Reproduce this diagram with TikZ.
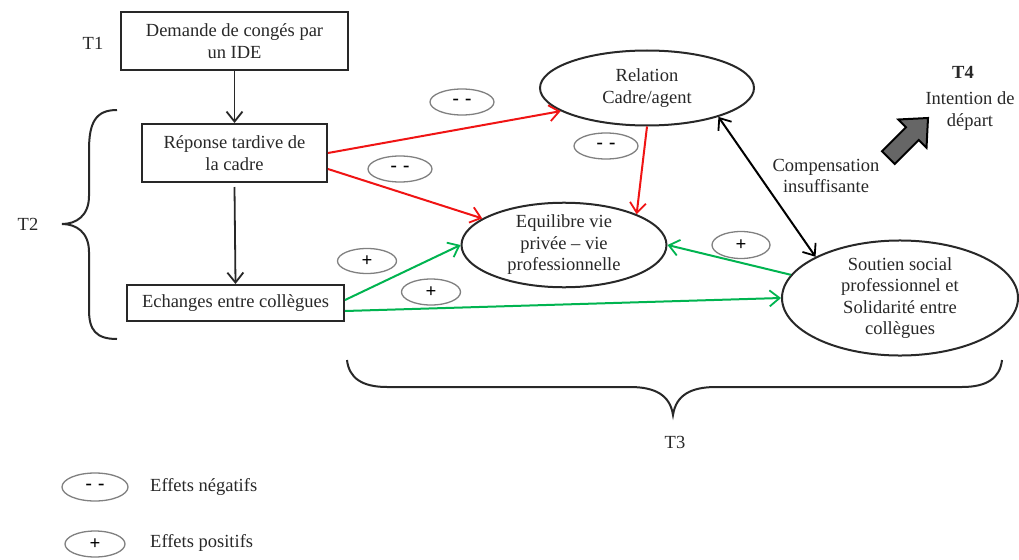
\documentclass[tikz,border=0pt]{standalone}
\usepackage{fontspec}
\setmainfont{Liberation Serif}
\usetikzlibrary{shapes.geometric,arrows.meta}
\definecolor{redarr}{RGB}{240,20,20}
\definecolor{greenarr}{RGB}{0,180,80}
\definecolor{ink}{RGB}{40,40,40}
\begin{document}
\begin{tikzpicture}[x=1pt,y=-1pt,
  every node/.style={font=\fontsize{18.5}{21.5}\selectfont, text=ink, inner sep=0pt, align=center},
  boxnode/.style={draw=ink, line width=2pt, rectangle},
  ellnode/.style={draw=ink, line width=2pt, ellipse},
  badge/.style={draw=black!50, line width=1.3pt, ellipse, minimum width=64pt, minimum height=26pt, text=black, font=\fontsize{19}{20}\selectfont\bfseries},
  tip/.style={-{Straight Barb[length=10pt,width=16pt,line width=1.8pt]}},
  blackarr/.style={tip, draw=ink, line width=1.8pt},
  redline/.style={tip, draw=redarr, line width=2pt},
  greenline/.style={tip, draw=greenarr, line width=2pt},
  bracel/.style={draw=ink, line width=2pt}
]
\fill[white] (0,0) rectangle (1019,559);
\useasboundingbox (0,0) rectangle (1019,559);

% Time labels
\node (t1) at (93,43) {T1};
\node (t2) at (28,224) {T2};
\node (t3) at (675,442) {T3};
\node (t4) at (963,72) {\textbf{T4}};
\node (dep) at (970,111) {Intention de\\départ};

% Boxes
\node[boxnode, minimum width=227pt, minimum height=58pt] (b1) at (234.5,41) {Demande de congés par\\un IDE};
\node[boxnode, minimum width=185pt, minimum height=58pt] (b2) at (234.5,153) {Réponse tardive de\\la cadre};
\node[boxnode, minimum width=217pt, minimum height=36pt] (b3) at (235.5,303) {Echanges entre collègues};

% Ellipses
\node[ellnode, minimum width=214pt, minimum height=75pt] (rel) at (647,88) {Relation\\Cadre/agent};
\node[ellnode, minimum width=205pt, minimum height=84pt] (eq) at (564,245) {Equilibre vie\\privée – vie\\professionnelle};
\node[ellnode, minimum width=236pt, minimum height=110pt] (sou) at (900,298) {Soutien social\\professionnel et\\Solidarité entre\\collègues};

% Compensation label
\node (comp) at (826,176) {Compensation\\insuffisante};

% Badges
\node[badge] (n1) at (462,102) {-\,\,-};
\node[badge] (n2) at (400,169) {-\,\,-};
\node[badge] (n3) at (606,146) {-\,\,-};
\node[badge, minimum width=59pt, minimum height=25pt] (p1) at (367,261) {+};
\node[badge, minimum width=59pt, minimum height=26pt] (p2) at (431,292) {+};
\node[badge, minimum width=58pt, minimum height=27pt] (p3) at (741,245) {+};

% Legend
\node[badge, minimum width=66pt, minimum height=28pt] (ln) at (95,487) {-\,\,-};
\node[badge, minimum width=60pt, minimum height=26pt] (lp) at (95,544) {+};
\node[anchor=west] (lnt) at (150,487) {Effets négatifs};
\node[anchor=west] (lpt) at (150,543) {Effets positifs};

% Black arrows
\draw[blackarr] (b1.south) -- (b2.north);
\draw[blackarr] ([yshift=-4pt]b2.south) -- (b3.north);
\draw[{Straight Barb[length=10pt,width=16pt,line width=1.8pt]}-{Straight Barb[length=10pt,width=16pt,line width=1.8pt]}, draw=black, line width=2pt] (rel.338) -- (sou.154);

% Red arrows
\draw[redline] (b2.east) -- (rel.195);
\draw[redline] ([yshift=-16pt]b2.east) -- (eq.162);
\draw[redline] (rel.south) -- (eq.23);

% Green arrows
\draw[greenline] ([yshift=3pt]b3.east) -- (eq.west);
\draw[greenline] ([yshift=-8pt]b3.east) -- (sou.west);
\draw[greenline] (sou.168) -- (eq.east);

% Braces
\draw[bracel] (117,110) .. controls (96,110) and (89,122) .. (89,150) -- (89,196)
  .. controls (89,216) and (76,224) .. (62,224)
  .. controls (76,224) and (89,232) .. (89,252) -- (89,310)
  .. controls (89,330) and (96,339) .. (117,339);
\draw[bracel] (347,360) .. controls (349,378) and (362,387) .. (387,387) -- (630,387)
  .. controls (655,387) and (670,395) .. (673,415)
  .. controls (676,395) and (691,387) .. (716,387) -- (962,387)
  .. controls (987,387) and (1000,378) .. (1002,360);

% Fat arrow towards T4
\filldraw[fill=black!60, draw=black, line width=2pt, line join=miter]
  (928,118) -- (926.5,147.7) -- (918.8,140.0) -- (894.8,164.0) -- (882.0,151.2)
  -- (906.0,127.2) -- (898.3,119.5) -- cycle;
\end{tikzpicture}
\end{document}
